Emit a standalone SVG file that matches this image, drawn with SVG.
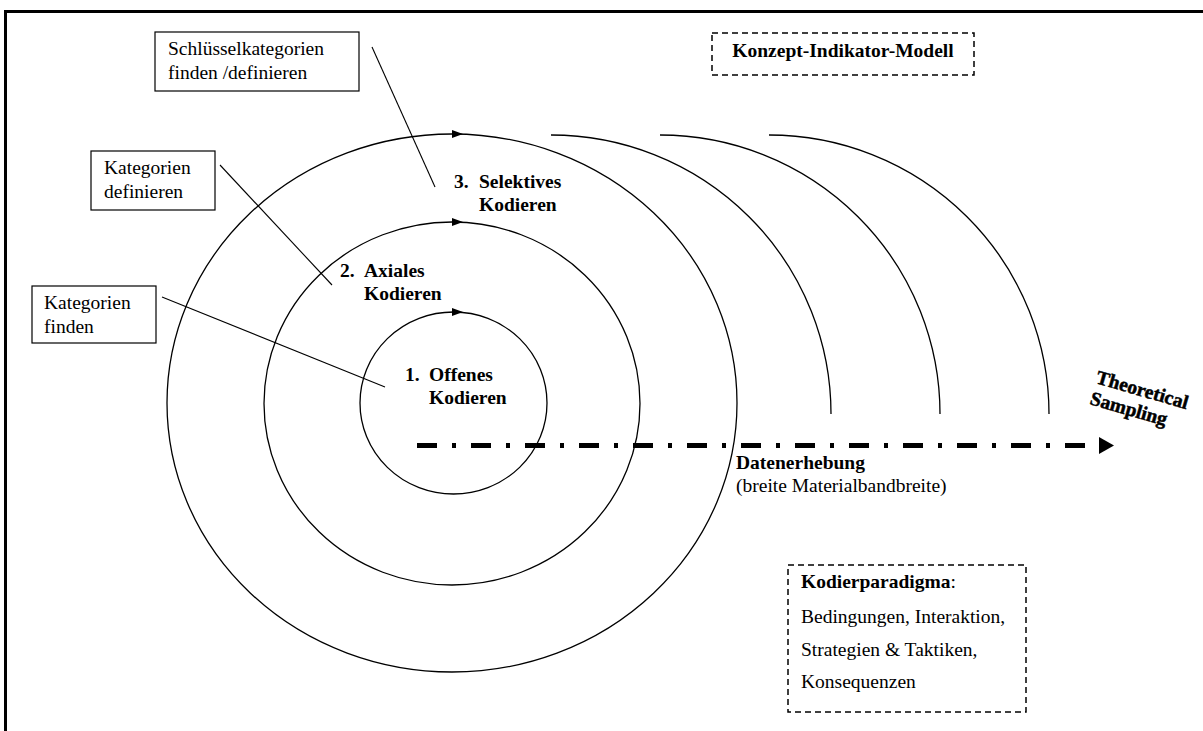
<svg xmlns="http://www.w3.org/2000/svg" width="1203" height="731" viewBox="0 0 1203 731">
<style>
text{font-family:'Liberation Serif','Times New Roman',Tinos,'DejaVu Serif',serif;font-size:19.5px;fill:#000}
.b{font-weight:bold}
.box{fill:#fff;stroke:#000;stroke-width:1.2}
.dbox{fill:none;stroke:#000;stroke-width:1.5;stroke-dasharray:6,4}
.ring{fill:none;stroke:#000;stroke-width:1.3}
.lead{stroke:#000;stroke-width:1.1;fill:none}
.ts{font-weight:bold;font-size:19.5px;stroke:#000;stroke-width:0.5}
</style>
<rect x="0" y="0" width="1203" height="731" fill="#fff"/>
<rect x="5.5" y="11.5" width="1210" height="740" fill="none" stroke="#000" stroke-width="3"/>
<g id="rings">
<ellipse class="ring" cx="453.5" cy="403" rx="93.5" ry="91"/>
<ellipse class="ring" cx="452" cy="403.5" rx="188" ry="181.5"/>
<ellipse class="ring" cx="452" cy="403" rx="285" ry="269"/>
<polygon points="452,308 463,312 452,316" fill="#000"/>
<polygon points="452,218 463,222 452,226" fill="#000"/>
<polygon points="452,130 463,134 452,138" fill="#000"/>
</g>
<g id="wave-arcs">
<path class="ring" d="M551,135 A280,279 0 0 1 831,414"/>
<path class="ring" d="M660,135 A280,279 0 0 1 940,414"/>
<path class="ring" d="M769,135 A280,279 0 0 1 1049,414"/>
</g>
<g id="connectors">
<line class="lead" x1="372" y1="47" x2="435" y2="187"/>
<line class="lead" x1="220" y1="165" x2="332" y2="285"/>
<line class="lead" x1="162" y1="297" x2="385" y2="387"/>
<line x1="417" y1="445.5" x2="1098" y2="445.5" stroke="#000" stroke-width="5" stroke-dasharray="20,15,4,15"/>
<polygon points="1099,437 1114,445.5 1099,454" fill="#000"/>
</g>
<g id="node-schluessel">
<rect class="box" x="155" y="32" width="204" height="59"/>
<text x="168" y="55">Schlüsselkategorien</text>
<text x="168" y="79">finden /definieren</text>
</g>
<g id="node-kat-def">
<rect class="box" x="91" y="151" width="124" height="59"/>
<text x="104" y="174">Kategorien</text>
<text x="104" y="198">definieren</text>
</g>
<g id="node-kat-find">
<rect class="box" x="32" y="286" width="124" height="57"/>
<text x="44" y="309">Kategorien</text>
<text x="44" y="333">finden</text>
</g>
<g id="node-konzept">
<rect class="dbox" x="712" y="33" width="262" height="42"/>
<text class="b" x="843" y="57" text-anchor="middle">Konzept-Indikator-Modell</text>
</g>
<g id="node-kodierparadigma">
<rect class="dbox" x="788" y="565" width="238" height="147"/>
<text x="801" y="588"><tspan class="b">Kodierparadigma</tspan>:</text>
<text x="801" y="623">Bedingungen, Interaktion,</text>
<text x="801" y="656">Strategien &amp; Taktiken,</text>
<text x="801" y="688">Konsequenzen</text>
</g>
<g id="label-selektiv">
<text class="b" x="454" y="188">3.</text>
<text class="b" x="479" y="188">Selektives</text>
<text class="b" x="479" y="211">Kodieren</text>
</g>
<g id="label-axial">
<text class="b" x="340" y="277">2.</text>
<text class="b" x="364" y="277">Axiales</text>
<text class="b" x="364" y="300">Kodieren</text>
</g>
<g id="label-offen">
<text class="b" x="405" y="381">1.</text>
<text class="b" x="429" y="381">Offenes</text>
<text class="b" x="429" y="404">Kodieren</text>
</g>
<g id="label-datenerhebung">
<text class="b" x="736" y="469">Datenerhebung</text>
<text x="736" y="492">(breite Materialbandbreite)</text>
</g>
<g id="label-theoretical">
<text class="ts" transform="translate(1095,383) rotate(16)">Theoretical</text>
<text class="ts" transform="translate(1089,404) rotate(16)">Sampling</text>
</g>
</svg>
